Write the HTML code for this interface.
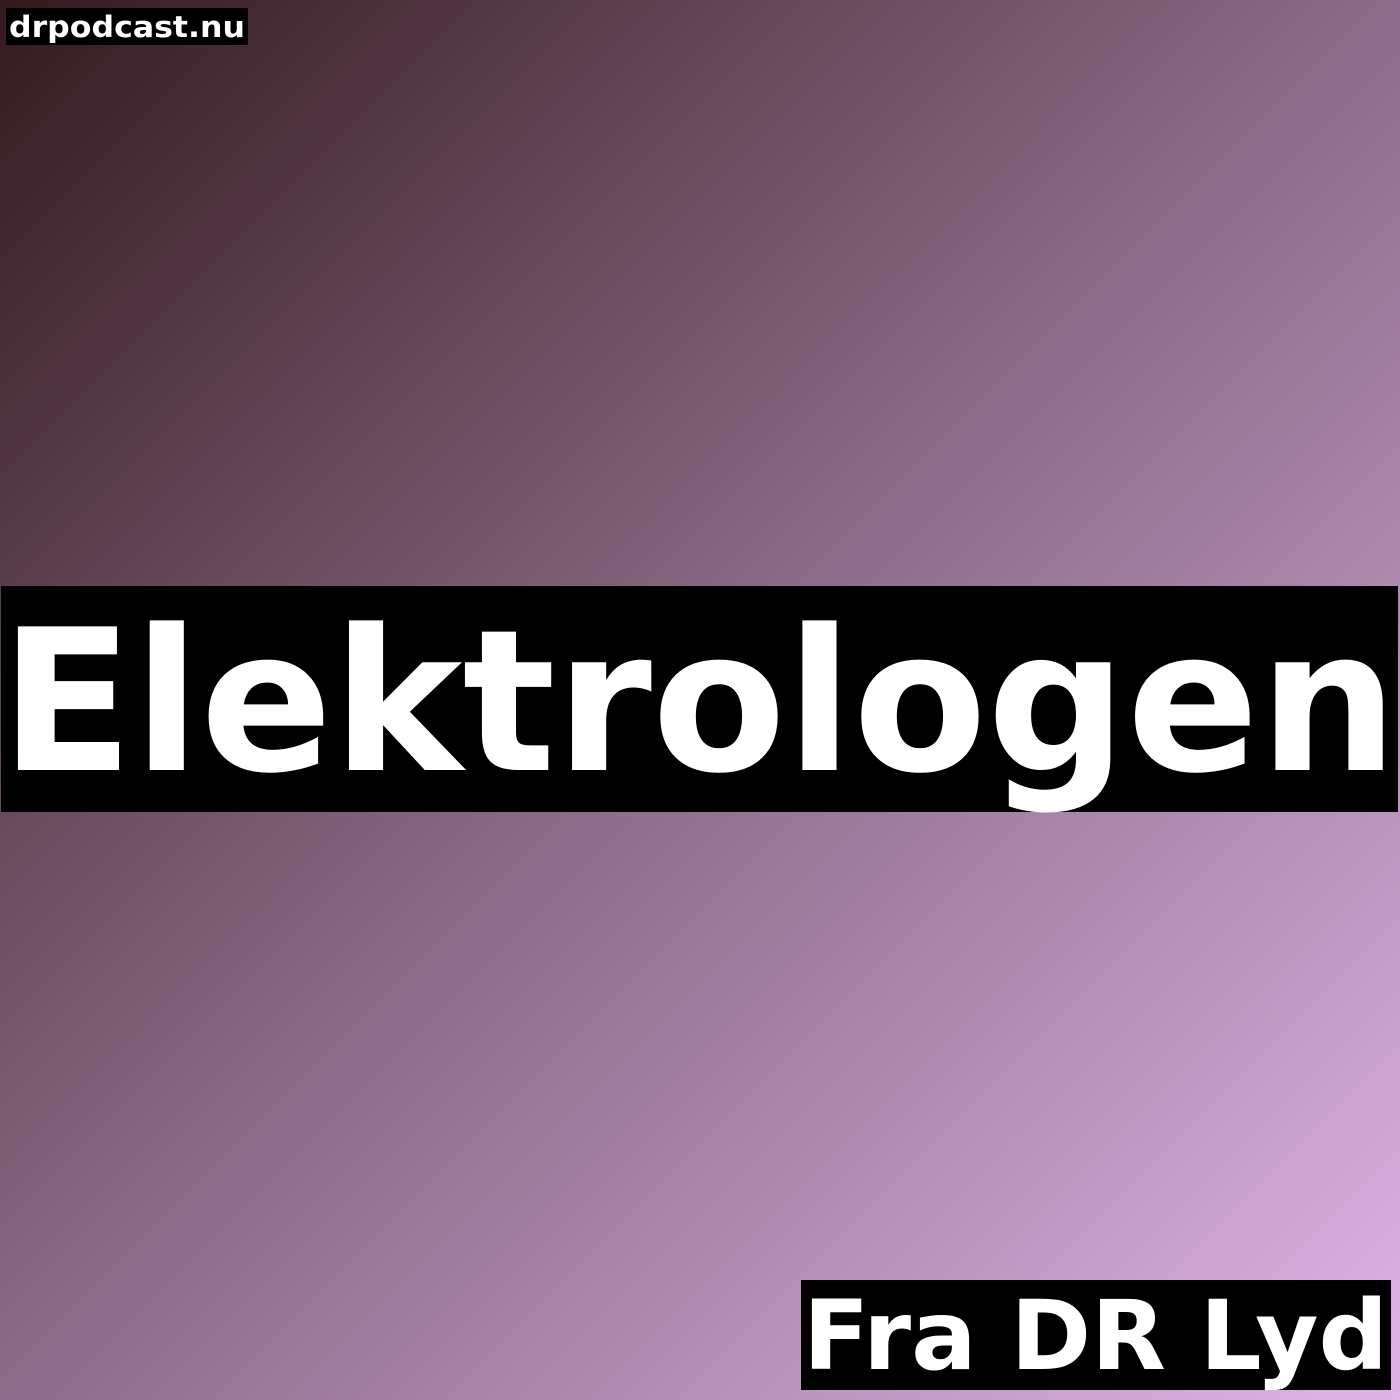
<!DOCTYPE html>
<html><head><meta charset="utf-8"><style>
html,body{margin:0;padding:0;width:1400px;height:1400px;overflow:hidden}
svg{display:block}
text{font-family:"DejaVu Sans","Liberation Sans",sans-serif;font-weight:bold;fill:#fff}
</style></head><body>
<svg width="1400" height="1400" viewBox="0 0 1400 1400">
<defs><linearGradient id="g" x1="0" y1="0" x2="1" y2="1">
<stop offset="0" stop-color="#331a1e"/><stop offset="0.5" stop-color="#8c6c88"/><stop offset="1" stop-color="#e0b4e8"/>
</linearGradient></defs>
<rect width="1400" height="1400" fill="url(#g)"/>
<g>
<rect x="6" y="8" width="242" height="37" fill="#000"/>
<text x="9" y="37" font-size="29" textLength="236" lengthAdjust="spacingAndGlyphs">drpodcast.nu</text>
</g>
<g>
<rect x="1" y="586" width="1397" height="226" fill="#000"/>
<text x="0" y="770" font-size="197" textLength="1398" lengthAdjust="spacingAndGlyphs">Elektrologen</text>
</g>
<g>
<rect x="801" y="1280" width="590" height="110" fill="#000"/>
<text x="803" y="1369" font-size="96" textLength="585" lengthAdjust="spacingAndGlyphs">Fra DR Lyd</text>
</g>
</svg>
</body></html>
